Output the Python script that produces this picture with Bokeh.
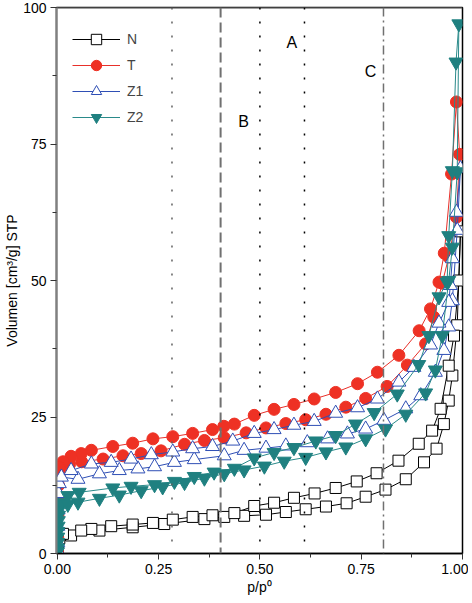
from bokeh.plotting import figure
from bokeh.models import Range1d, FixedTicker, Span, NumeralTickFormatter, ColumnDataSource
from bokeh.core.properties import value
from bokeh.embed import file_html
from bokeh.resources import INLINE

# ---------------- data ----------------
n_ads_x = [0.0005, 0.001, 0.002, 0.005, 0.034, 0.104, 0.186, 0.264, 0.363, 0.412, 0.461, 0.515, 0.564,
           0.613, 0.663, 0.714, 0.761, 0.81, 0.86, 0.905, 0.936, 0.954, 0.966, 0.975, 0.987, 0.995]
n_ads_y = [0.3, 1.0, 2.0, 2.8, 3.3, 4.2, 4.8, 5.4, 6.3, 6.7, 6.9, 7.1, 7.6,
           8.1, 8.6, 9.2, 10.4, 11.7, 13.6, 16.7, 19.2, 23.7, 28.0, 32.6, 41.8, 59.0]
n_des_x = [0.991, 0.979, 0.966, 0.946, 0.925, 0.892, 0.842, 0.788, 0.739, 0.687, 0.635, 0.584,
           0.535, 0.486, 0.437, 0.383, 0.334, 0.285, 0.236, 0.186, 0.133, 0.084, 0.059, 0.014]
n_des_y = [50.0, 39.9, 34.4, 26.5, 22.5, 20.1, 17.0, 14.7, 13.2, 12.0, 11.0, 10.2,
           9.3, 8.7, 7.4, 7.0, 6.7, 6.2, 5.6, 5.3, 5.0, 4.5, 4.2, 3.6]

t_ads_x = [0.0005, 0.001, 0.0015, 0.002, 0.003, 0.005, 0.01, 0.03, 0.06, 0.113, 0.162, 0.207, 0.256,
           0.314, 0.363, 0.412, 0.466, 0.515, 0.564, 0.613, 0.663, 0.712, 0.761, 0.814, 0.864, 0.909,
           0.929, 0.95, 0.966, 0.985, 0.993]
t_ads_y = [0.5, 3.0, 7.0, 10.0, 12.5, 14.5, 15.5, 16.3, 16.8, 17.3, 17.9, 18.3, 18.8,
           20.0, 20.7, 21.2, 22.1, 23.0, 23.8, 24.5, 25.5, 26.8, 28.4, 30.6, 34.5, 38.4,
           43.3, 49.5, 54.3, 61.6, 73.1]
t_des_x = [0.985, 0.973, 0.955, 0.942, 0.921, 0.893, 0.843, 0.79, 0.741, 0.687, 0.634, 0.584, 0.535,
           0.486, 0.437, 0.411, 0.383, 0.334, 0.285, 0.236, 0.186, 0.137, 0.084, 0.059, 0.034, 0.014, 0.004]
t_des_y = [82.7, 69.5, 55.0, 49.7, 44.8, 40.8, 36.3, 33.2, 31.1, 29.5, 28.3, 27.3, 26.4,
           25.3, 23.7, 23.3, 22.7, 22.0, 21.4, 21.0, 20.2, 19.6, 18.9, 18.3, 17.8, 16.8, 15.8]

z1_ads_x = [0.0005, 0.001, 0.0015, 0.002, 0.003, 0.005, 0.01, 0.051, 0.104, 0.153, 0.199, 0.24, 0.289,
            0.338, 0.412, 0.461, 0.515, 0.564, 0.617, 0.667, 0.716, 0.761, 0.806, 0.86, 0.897, 0.933,
            0.954, 0.966, 0.975, 0.987, 0.995]
z1_ads_y = [0.5, 2.0, 5.0, 8.0, 11.0, 12.8, 14.0, 13.6, 14.6, 15.2, 15.5, 15.9, 16.7,
            17.2, 17.9, 18.9, 19.3, 19.7, 20.3, 21.0, 21.9, 22.8, 24.4, 26.5, 28.9, 33.2,
            37.2, 41.5, 46.3, 59.2, 70.5]
z1_des_x = [0.985, 0.975, 0.97, 0.966, 0.942, 0.921, 0.88, 0.843, 0.79, 0.741, 0.687, 0.634,
            0.584, 0.535, 0.486, 0.433, 0.383, 0.334, 0.285, 0.232, 0.182, 0.133, 0.084, 0.034]
z1_des_y = [62.5, 54.0, 49.1, 46.0, 42.2, 38.2, 34.1, 31.4, 28.3, 26.7, 25.7, 24.2,
            23.5, 22.7, 22.0, 20.6, 19.6, 19.2, 18.6, 18.1, 17.3, 16.7, 16.4, 15.2]

z2_ads_x = [0.0005, 0.0007, 0.001, 0.0012, 0.0015, 0.002, 0.0025, 0.003, 0.004, 0.006, 0.01, 0.026,
            0.051, 0.104, 0.153, 0.207, 0.26, 0.314, 0.363, 0.412, 0.461, 0.511, 0.56, 0.613, 0.663,
            0.712, 0.761, 0.81, 0.86, 0.909, 0.933, 0.95, 0.966, 0.975, 0.987, 0.991]
z2_ads_y = [0.3, 1.0, 2.0, 3.0, 4.0, 5.0, 6.0, 7.0, 8.0, 8.8, 9.3, 9.0,
            9.4, 10.1, 10.7, 11.5, 12.2, 13.0, 13.8, 14.6, 15.3, 16.0, 16.9, 17.6, 18.6,
            19.5, 21.0, 22.8, 25.5, 29.4, 33.6, 39.9, 50.0, 56.1, 69.9, 97.0]
z2_des_x = [0.984, 0.975, 0.966, 0.962, 0.942, 0.917, 0.892, 0.839, 0.782, 0.736, 0.687, 0.638,
            0.584, 0.535, 0.486, 0.437, 0.387, 0.338, 0.289, 0.24, 0.182, 0.137, 0.054, 0.026]
z2_des_y = [90.0, 70.1, 58.2, 49.7, 47.0, 39.9, 34.6, 29.2, 25.8, 23.7, 21.6, 20.6,
            19.4, 18.5, 17.5, 15.6, 14.9, 14.1, 13.2, 12.6, 12.3, 12.0, 11.2, 10.6]

series_names = ["N", "T", "Z1", "Z2"]
x_ticks = [0.0, 0.25, 0.5, 0.75, 1.0]
y_ticks = [0, 25, 50, 75, 100]
ref_lines = [0.283, 0.403, 0.50, 0.61, 0.805]
region_labels = ["A", "B", "C"]
region_x = [0.579, 0.46, 0.773]
region_y = [93.6, 79.1, 88.3]

FONT = "Liberation Sans"

p = figure(width=468, height=603, output_backend="svg", toolbar_location=None,
           x_range=Range1d(-0.002, 1.0), y_range=Range1d(0, 100),
           min_border_left=56, min_border_right=6, min_border_top=7, min_border_bottom=50)
p.grid.visible = False
p.outline_line_color = "black"
p.outline_line_width = 1.5

# axes
xa = p.xaxis[0]
xa.ticker = FixedTicker(ticks=x_ticks, minor_ticks=[0.125, 0.375, 0.625, 0.875])
xa.formatter = NumeralTickFormatter(format="0.00")
xa.axis_label = "p/p\u2070"
xa.axis_line_color = "black"
xa.axis_line_width = 1.5
ya = p.yaxis[0]
ya.ticker = FixedTicker(ticks=y_ticks, minor_ticks=[12.5, 37.5, 62.5, 87.5])
ya.axis_label = "Volumen [cm\u00b3/g] STP"
ya.axis_line_color = "#808080"
ya.axis_line_width = 2
for ax in (xa, ya):
    ax.major_tick_out = 6
    ax.major_tick_in = 0
    ax.minor_tick_out = 4
    ax.minor_tick_in = 0
    ax.major_tick_line_color = "#333333"
    ax.minor_tick_line_color = "#333333"
    ax.major_label_text_font = FONT
    ax.major_label_text_font_size = "14px"
    ax.major_label_text_color = "black"
    ax.axis_label_text_font = FONT
    ax.axis_label_text_font_size = "14px"
    ax.axis_label_text_font_style = "normal"
    ax.axis_label_text_color = "black"
xa.major_label_standoff = 4
xa.axis_label_standoff = 2
ya.major_label_standoff = 4
ya.axis_label_standoff = 0

# top edge of the frame in grey
p.add_layout(Span(location=100, dimension="width", line_color="#808080", line_width=2))

# reference vertical lines
styles = [("#606060", "2 12", 1.5), ("#707070", "10 5", 2), ("black", "2 12", 1.5),
          ("black", "2 12", 1.5), ("#707070", "9 4 2 4", 1.5)]
for loc, (c, d, w) in zip(ref_lines, styles):
    p.add_layout(Span(location=loc, dimension="height", line_color=c, line_dash=d, line_width=w))

# region labels
p.text(x=region_x, y=region_y, text=region_labels, text_font=value(FONT), text_font_size="16px",
       text_color="black", text_align="center", text_baseline="middle")

specs = [
    ("N", n_ads_x + n_des_x, n_ads_y + n_des_y, "black", "square", 11, "white", "black"),
    ("T", t_ads_x + t_des_x, t_ads_y + t_des_y, "#e8302a", "circle", 12, "#ee3124", None),
    ("Z1", z1_ads_x + z1_des_x, z1_ads_y + z1_des_y, "#2f4fb5", "triangle", 14, "white", "#2f4fb5"),
    ("Z2", z2_ads_x + z2_des_x, z2_ads_y + z2_des_y, "#2a8a8a", "inverted_triangle", 14, "#1f8080", None),
]
for name, xs, ys, lc, marker, size, fill, outline in specs:
    src = ColumnDataSource(dict(x=xs, y=ys))
    p.line("x", "y", source=src, line_color=lc, line_width=1, legend_label=name)
    p.scatter("x", "y", source=src, marker=marker, size=size, fill_color=fill,
              line_color=outline if outline else fill, line_width=1, legend_label=name)

lg = p.legend[0]
lg.location = (16, 423)
lg.border_line_color = None
lg.background_fill_alpha = 0
lg.margin = 0
lg.padding = 0
lg.spacing = 0
lg.glyph_width = 48
lg.glyph_height = 26
lg.label_height = 26
lg.label_standoff = 7
lg.label_text_font = FONT
lg.label_text_font_size = "14px"

open("out.html", "w").write(file_html(p, INLINE))
